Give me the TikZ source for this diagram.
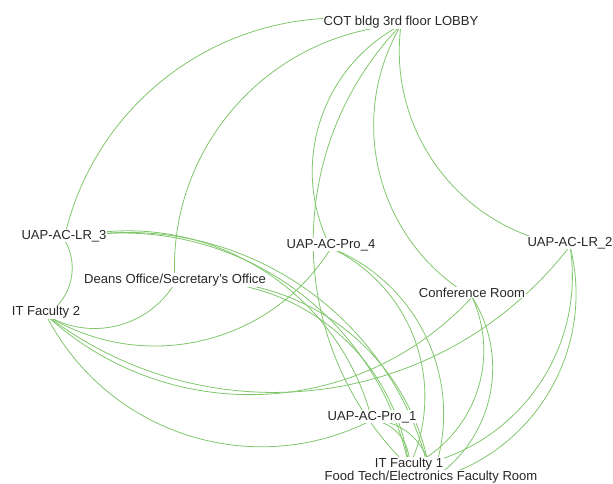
\documentclass[tikz,border=0pt]{standalone}
\usepackage{fontspec}
\setmainfont{Liberation Sans}
\usepackage{tikz}
\usetikzlibrary{positioning}

\definecolor{edgegreen}{RGB}{128,198,108}
\definecolor{labelgray}{RGB}{40,40,40}

\pgfdeclarelayer{background}
\pgfsetlayers{background,main}

\begin{document}
\begin{tikzpicture}[
    x=0.75pt, y=0.75pt,
    vtx/.style={anchor=base, fill=white, inner sep=0.6pt, font=\fontsize{9.8}{11}\selectfont, text=labelgray},
    edge/.style={draw=edgegreen, line width=0.6pt, bend right=45}
]
    \useasboundingbox (0,0) rectangle (613,-483);

    % Vertices (label baseline sits on the vertex)
    \node[vtx] (cot) at (401,-25) {COT bldg 3rd floor LOBBY};
    \node[vtx] (lr3) at (64,-239) {UAP-AC-LR\_3};
    \node[vtx] (deans) at (175,-283) {Deans Office/Secretary's Office};
    \node[vtx] (it2) at (46,-315) {IT Faculty 2};
    \node[vtx] (pro4) at (331,-248) {UAP-AC-Pro\_4};
    \node[vtx] (lr2) at (570,-246) {UAP-AC-LR\_2};
    \node[vtx] (conf) at (472,-297) {Conference Room};
    \node[vtx] (pro1) at (372,-420) {UAP-AC-Pro\_1};
    \node[vtx] (it1) at (409,-467) {IT Faculty 1};
    \node[vtx] (food) at (431,-480) {Food Tech/Electronics Faculty Room};

    % Edges, behind the labels
    \begin{pgfonlayer}{background}
    \foreach \t in {lr3,deans,pro4,it1,conf,lr2}
        \draw[edge] (cot.base) to (\t.base);
    \foreach \t in {lr3,deans,pro4,lr2,conf,pro1}
        \draw[edge] (it2.base) to (\t.base);
    \foreach \t in {lr3,deans,pro4,conf,lr2,pro1}
        \draw[edge] (it1.base) to (\t.base);
    \foreach \t in {lr3,deans,pro4,conf,lr2,pro1}
        \draw[edge] (food.base) to (\t.base);
    \draw[edge] (pro1.base) to (lr3.base);
    \end{pgfonlayer}
\end{tikzpicture}
\end{document}
